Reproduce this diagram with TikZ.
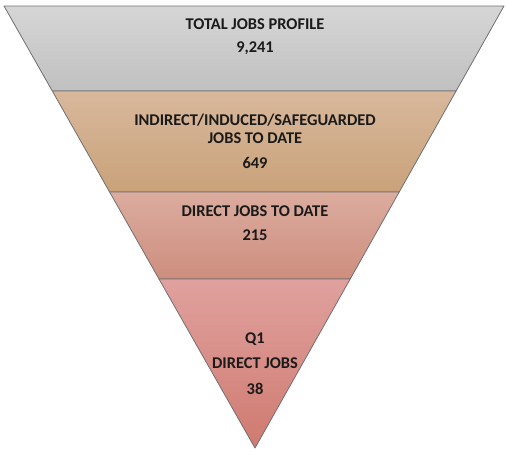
\documentclass[tikz,border=0pt]{standalone}
\usepackage{fontspec}
\setmainfont{Carlito}
\definecolor{edge}{HTML}{707070}
\definecolor{gA1}{HTML}{D6D6D6}\definecolor{gA2}{HTML}{C0C0C0}
\definecolor{gB1}{HTML}{D8B89C}\definecolor{gB2}{HTML}{C9A27A}
\definecolor{gC1}{HTML}{DBAC9F}\definecolor{gC2}{HTML}{CE8E7E}
\definecolor{gD1}{HTML}{E0A19E}\definecolor{gD2}{HTML}{CF7A70}
\definecolor{txt}{HTML}{1A1A1A}
\begin{document}
\begin{tikzpicture}[x=0.75pt,y=-0.75pt,
  band/.style={draw=edge,line width=0.6pt,line join=round},
  lbl/.style={inner sep=0pt,font=\fontsize{12.3}{14}\selectfont\bfseries,text=txt,anchor=center}]
\useasboundingbox (0,0) rectangle (506,454);
\coordinate (t1) at (4,6);     \coordinate (t2) at (504,6);
\coordinate (a1) at (52.3,91); \coordinate (a2) at (456.1,91);
\coordinate (b1) at (109.6,192); \coordinate (b2) at (399.2,192);
\coordinate (c1) at (159.0,279); \coordinate (c2) at (350.2,279);
\coordinate (apex) at (255,448);
\path[band,top color=gA1,bottom color=gA2] (t1) -- (t2) -- (a2) -- (a1) -- cycle;
\path[band,top color=gB1,bottom color=gB2] (a1) -- (a2) -- (b2) -- (b1) -- cycle;
\path[band,top color=gC1,bottom color=gC2] (b1) -- (b2) -- (c2) -- (c1) -- cycle;
\path[band,top color=gD1,bottom color=gD2] (c1) -- (c2) -- (apex) -- cycle;
\node[lbl] (l1) at (255,24) {TOTAL JOBS PROFILE};
\node[lbl] (n1) at (255,48) {9,241};
\node[lbl] (l2) at (255,120) {INDIRECT/INDUCED/SAFEGUARDED};
\node[lbl] (l2b) at (255,138) {JOBS TO DATE};
\node[lbl] (n2) at (255,163) {649};
\node[lbl] (l3) at (255,211) {DIRECT JOBS TO DATE};
\node[lbl] (n3) at (255,235) {215};
\node[lbl] (l4) at (255,339) {Q1};
\node[lbl] (l4b) at (255,363) {DIRECT JOBS};
\node[lbl] (n4) at (255,389) {38};
\end{tikzpicture}
\end{document}
